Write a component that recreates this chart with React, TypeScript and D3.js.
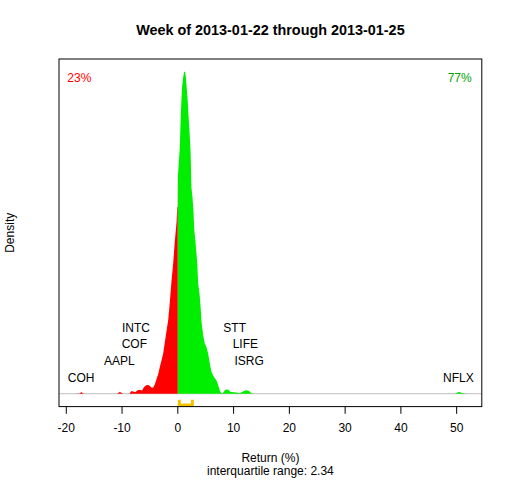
import * as d3 from 'd3';

// density estimate of weekly returns
const returnX = [
  -18.5, -17.6, -17.3, -17.0, -16.6,
  -10.9, -10.6, -10.4, -10.1, -9.8,
  -8.7, -8.3, -7.9, -7.6, -7.2, -6.8, -6.4, -6.1, -5.7, -5.3, -5.0, -4.7, -4.4, -4.1,
  -3.8, -3.5, -3.23, -2.93, -2.63, -2.33, -2.03, -1.73, -1.44, -1.14, -0.84, -0.54,
  -0.36, -0.23, -0.1, -0.02,
  0, 0.18, 0.36, 0.54, 0.66, 0.78, 0.96, 1.14, 1.3, 1.45, 1.56, 1.74, 1.92, 2.1, 2.28,
  2.45, 2.63, 2.8, 2.95, 3.17, 3.47, 3.65, 3.89, 4.07, 4.25, 4.55, 4.84, 5.14, 5.44,
  5.74, 6.04, 6.51, 6.94, 7.24, 7.53, 7.8, 8.1, 8.5, 9.0, 9.4, 10.0, 10.6, 11.1, 11.6,
  12.2, 12.7, 13.2, 13.6,
  49.7, 50.1, 50.4, 50.8, 51.7,
];
const densityY = [
  0, 0.0002, 0.0011, 0.0002, 0,
  0, 0.0006, 0.0012, 0.0004, 0,
  0, 0.0017, 0.0012, 0.001, 0.0022, 0.0024, 0.002, 0.004, 0.0052, 0.0054, 0.0048, 0.0037, 0.0038, 0.006,
  0.0093, 0.0125, 0.0166, 0.0207, 0.025, 0.032, 0.039, 0.0457, 0.057, 0.07, 0.081, 0.095,
  0.1018, 0.107, 0.1163, 0.1163,
  0.1348, 0.144, 0.154, 0.174, 0.184, 0.1917, 0.197, 0.2004, 0.2004, 0.197, 0.1917, 0.184, 0.173, 0.163, 0.1516,
  0.128, 0.1225, 0.114, 0.102, 0.0945, 0.082, 0.0685, 0.0623, 0.055, 0.0446, 0.0363, 0.0312, 0.029, 0.0249,
  0.0187, 0.0135, 0.0103, 0.0083, 0.0052, 0.002, 0.0003, 0.0005, 0.0024, 0.0026, 0.0012, 0.0009, 0.0008, 0.0003, 0.0012,
  0.0022, 0.0018, 0.0003, 0,
  0, 0.0006, 0.0012, 0.0006, 0,
];

// labelled stocks: return and stacking level above the baseline
const stockNames = ['COH', 'AAPL', 'COF', 'INTC', 'STT', 'LIFE', 'ISRG', 'NFLX'];
const stockReturns = [-17.35, -10.5, -7.8, -7.5, 10.2, 12.1, 12.8, 50.3];
const stockLevels = [1, 2, 3, 4, 4, 3, 2, 1];

const xTicks = [-20, -10, 0, 10, 20, 30, 40, 50];
const pctDown = '23%';
const pctUp = '77%';
const iqr = [0.27, 2.61];

const W = 512;
const H = 480;
const left = 59;
const right = 481.8;
const top = 59;
const bottom = 406.6;

export default function App() {
  const pts = returnX.map((x, i) => ({ x, y: densityY[i] }));
  const xmin = d3.min(returnX)!;
  const xmax = d3.max(returnX)!;
  const xpad = (xmax - xmin) * 0.04;
  const ymax = d3.max(densityY)!;
  const ypad = ymax * 0.04;

  const x = d3.scaleLinear().domain([xmin - xpad, xmax + xpad]).range([left, right]);
  const y = d3.scaleLinear().domain([-ypad, ymax + ypad]).range([bottom, top]);

  const area = d3.area<{ x: number; y: number }>()
    .x(d => x(d.x))
    .y0(y(0))
    .y1(d => y(d.y));

  const x0 = x(0);
  const base = y(0);
  const font = '"Liberation Sans", Arial, sans-serif';

  const bracket = `M${x(iqr[0])},${base + 6} V${base + 11.2} H${x(iqr[1])} V${base + 6}`;

  return (
    <svg width={W} height={H} style={{ position: 'absolute', left: 0, top: 0, background: '#fff' }}
      fontFamily={font}>
      <defs>
        <clipPath id="neg"><rect x={left} y={top} width={x0 - left} height={bottom - top} /></clipPath>
        <clipPath id="pos"><rect x={x0} y={top} width={right - x0} height={bottom - top} /></clipPath>
      </defs>

      <text x={(left + right) / 2} y={35} textAnchor="middle" fontWeight="bold" fontSize={14.4}>
        Week of 2013-01-22 through 2013-01-25
      </text>

      <line x1={left} x2={right} y1={base} y2={base} stroke="#bebebe" strokeWidth={1} />
      <path d={area(pts)!} fill="#ff0000" clipPath="url(#neg)" />
      <path d={area(pts)!} fill="#00ee00" clipPath="url(#pos)" />

      <path d={bracket} fill="none" stroke="#f5c400" strokeWidth={3} strokeLinejoin="miter" />

      {stockNames.map((n, i) => (
        <text key={n} x={x(stockReturns[i])} y={base - 15.8 - (stockLevels[i] - 1) * 16.9 + 4.3}
          textAnchor="middle" fontSize={12}>{n}</text>
      ))}

      <text x={67.3} y={82} fontSize={12} fill="#ff0000">{pctDown}</text>
      <text x={471.7} y={82} fontSize={12} fill="#00a600" textAnchor="end">{pctUp}</text>

      <rect x={left} y={top} width={right - left} height={bottom - top} fill="none" stroke="#000" strokeWidth={1} />

      {xTicks.map(t => (
        <g key={t}>
          <line x1={x(t)} x2={x(t)} y1={bottom} y2={bottom + 7.2} stroke="#000" />
          <text x={x(t)} y={432.3} textAnchor="middle" fontSize={12}>{t}</text>
        </g>
      ))}

      <text x={(left + right) / 2} y={461.6} textAnchor="middle" fontSize={12}>Return (%)</text>
      <text x={(left + right) / 2} y={475} textAnchor="middle" fontSize={12}>interquartile range: 2.34</text>
      <text transform={`translate(14,${(top + bottom) / 2}) rotate(-90)`} textAnchor="middle" fontSize={12}>Density</text>
    </svg>
  );
}
